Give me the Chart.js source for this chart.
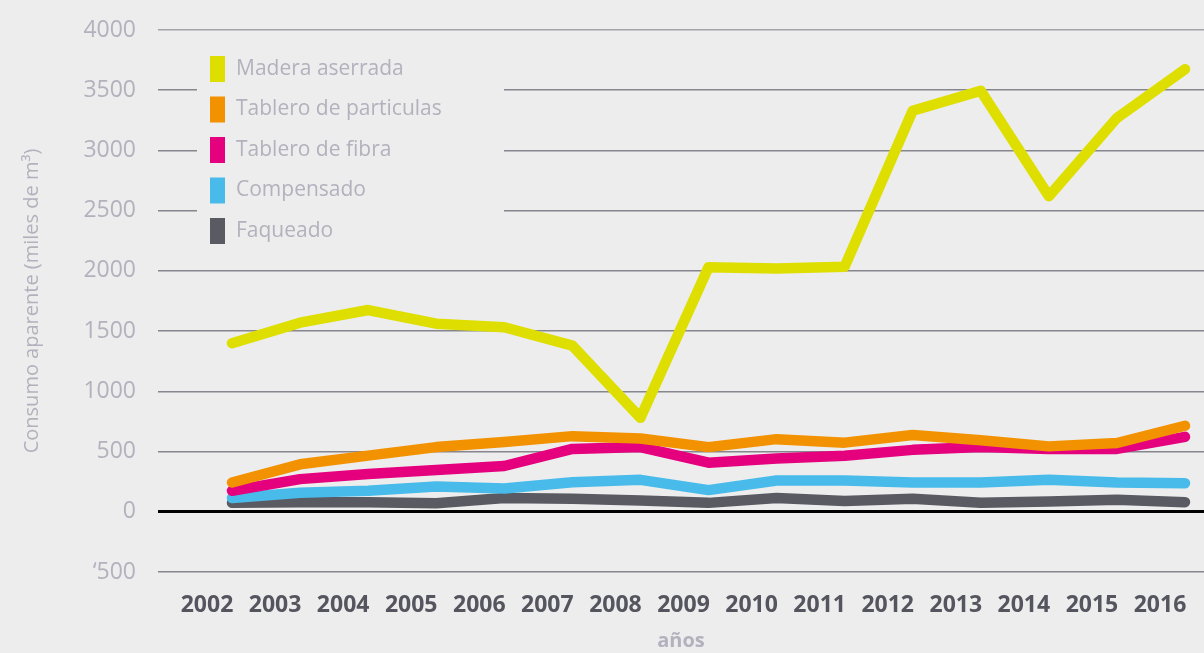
<!DOCTYPE html>
<html>
<head>
<meta charset="utf-8">
<style>
  html, body { margin: 0; padding: 0; background: #ededed; }
  #wrap { width: 1204px; height: 653px; }
</style>
<script src="https://cdn.jsdelivr.net/npm/chart.js@4.4.1/dist/chart.umd.min.js"></script>
</head>
<body>
<div id="wrap"><canvas id="myChart" width="1204" height="653"></canvas></div>
<script>
const years = [2002, 2003, 2004, 2005, 2006, 2007, 2008, 2009, 2010, 2011, 2012, 2013, 2014, 2015, 2016];

const maderaAserrada = [1400, 1570, 1675, 1562, 1532, 1380, 780, 2030, 2020, 2035, 3330, 3495, 2620, 3270, 3675];
const tableroParticulas = [243, 394, 466, 537, 580, 628, 608, 537, 603, 574, 637, 594, 543, 571, 714];
const tableroFibra = [175, 271, 314, 346, 380, 522, 537, 408, 443, 466, 514, 537, 522, 522, 622];
const compensado = [115, 158, 175, 209, 194, 246, 265, 180, 260, 260, 243, 243, 265, 243, 237];
const faqueado = [74, 80, 80, 70, 115, 109, 94, 74, 115, 89, 109, 74, 86, 100, 80];

const seriesNames = ["Madera aserrada", "Tablero de particulas", "Tablero de fibra", "Compensado", "Faqueado"];
const seriesColors = ["#dedf00", "#f39200", "#e5007e", "#48bbea", "#5a5a63"];
const seriesValues = [maderaAserrada, tableroParticulas, tableroFibra, compensado, faqueado];

const yTicks = [-500, 0, 500, 1000, 1500, 2000, 2500, 3000, 3500, 4000];

// legend drawn inside the plot, over a plain box that hides the grid
const boxLegend = {
    id: "boxLegend",
    afterDatasetsDraw(chart) {
        const ctx = chart.ctx;
        ctx.save();
        ctx.fillStyle = "#ededed";
        ctx.fillRect(197, 40, 307, 215);
        ctx.font = "21px 'Open Sans'";
        ctx.textBaseline = "middle";
        chart.data.datasets.forEach((ds, i) => {
            const y = 69 + i * 40.5;
            ctx.fillStyle = ds.borderColor;
            ctx.fillRect(210, y - 13, 15, 26);
            ctx.fillStyle = "#b3b1bd";
            ctx.fillText(ds.label, 236, y);
        });
        ctx.restore();
    }
};

const ctx = document.getElementById("myChart");

new Chart(ctx, {
    type: "line",
    data: {
        datasets: seriesNames.map((name, i) => ({
            label: name,
            data: years.map((yr, j) => ({ x: yr, y: seriesValues[i][j] })),
            borderColor: seriesColors[i],
            backgroundColor: seriesColors[i],
            borderWidth: 10.5,
            borderCapStyle: "round",
            borderJoinStyle: "round",
            pointRadius: 0,
            tension: 0,
            fill: false
        }))
    },
    options: {
        responsive: false,
        animation: false,
        layout: { padding: { top: 30, right: 0, left: 0, bottom: 0 } },
        plugins: {
            legend: { display: false },
            tooltip: { enabled: false }
        },
        scales: {
            x: {
                type: "linear",
                min: 2000.913,
                max: 2016.279,
                afterBuildTicks: axis => { axis.ticks = years.map(v => ({ value: v })); },
                afterFit: axis => { axis.height = 81; axis.paddingLeft = 0; axis.paddingRight = 0; },
                grid: { display: false },
                border: { display: false },
                ticks: {
                    callback: v => String(v),
                    labelOffset: -25,
                    padding: 12,
                    color: "#55555f",
                    font: { family: "'Open Sans'", size: 23, weight: "bold" },
                    maxRotation: 0,
                    autoSkip: false
                },
                title: {
                    display: true,
                    text: "años",
                    color: "#b3b1bd",
                    font: { family: "'Open Sans'", size: 20, weight: "bold" },
                    padding: { top: 0, bottom: 0 }
                }
            },
            y: {
                min: -500,
                max: 4000,
                afterBuildTicks: axis => { axis.ticks = yTicks.map(v => ({ value: v })); },
                afterFit: axis => { axis.width = 158; axis.paddingTop = 0; axis.paddingBottom = 0; },
                border: { display: false },
                grid: {
                    drawTicks: false,
                    color: c => c.tick.value === 0 ? "#000000" : (c.tick.value === 4000 ? "#a4a4ab" : "#86868e"),
                    lineWidth: c => c.tick.value === 0 ? 3 : 1.5
                },
                ticks: {
                    callback: v => v < 0 ? "\u2018" + Math.abs(v) : String(v),
                    padding: 22,
                    color: "#b3b1bd",
                    font: { family: "'Open Sans'", size: 23 }
                },
                title: {
                    display: true,
                    text: "Consumo aparente (miles de m³)",
                    color: "#b3b1bd",
                    font: { family: "'Open Sans'", size: 20 },
                    padding: { top: 20, bottom: 0 }
                }
            }
        }
    },
    plugins: [boxLegend]
});
</script>
</body>
</html>
